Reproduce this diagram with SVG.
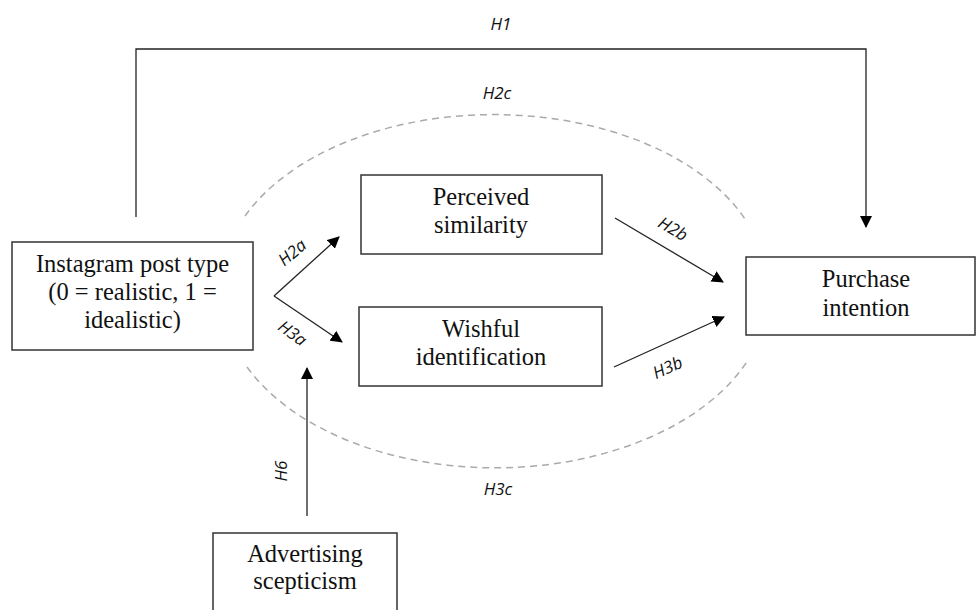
<svg xmlns="http://www.w3.org/2000/svg" width="976" height="610" viewBox="0 0 976 610">
<defs>
<style>
.box{fill:#fff;stroke:#333;stroke-width:1.5}
.nt{font-family:"Liberation Serif","Times New Roman",serif;font-size:24.5px;fill:#111;text-anchor:middle}
.lb{font-family:"Open Sans","Liberation Sans",sans-serif;font-style:italic;font-size:17px;fill:#111;text-anchor:middle}
.ln{fill:none;stroke:#222;stroke-width:1.3}
.dash{fill:none;stroke:#aaa;stroke-width:1.5;stroke-dasharray:7 5}
</style>
<marker id="ah" viewBox="0 0 12 12" refX="11" refY="6" markerWidth="12" markerHeight="12" markerUnits="userSpaceOnUse" orient="auto">
<path d="M0,0 L12,6 L0,12 Z" fill="#000"/>
</marker>
</defs>
<rect width="976" height="610" fill="#fff"/>
<g id="connectors">
<path class="dash" d="M245,216 A273,172 0 0 1 745,219"/>
<path class="dash" d="M247,367 A273,173 0 0 0 748,360"/>
<path class="ln" d="M136,217 L136,49 L866,49 L866,227" marker-end="url(#ah)"/>
<path class="ln" d="M274,296 L339,237" marker-end="url(#ah)"/>
<path class="ln" d="M274,296 L342,342" marker-end="url(#ah)"/>
<path class="ln" d="M615,218 L723,282" marker-end="url(#ah)"/>
<path class="ln" d="M614,367 L724,317" marker-end="url(#ah)"/>
<path class="ln" d="M307,516 L307,368" marker-end="url(#ah)"/>
<text class="lb" x="501" y="30">H1</text>
<text class="lb" x="497" y="99">H2c</text>
<text class="lb" x="498" y="495">H3c</text>
<text class="lb" transform="translate(296,257) rotate(-40)">H2a</text>
<text class="lb" transform="translate(289,338) rotate(36)">H3a</text>
<text class="lb" transform="translate(670,234) rotate(30)">H2b</text>
<text class="lb" transform="translate(670,373) rotate(-24)">H3b</text>
<text class="lb" transform="translate(287,471) rotate(-90)">H6</text>
</g>
<g id="instagram">
<rect class="box" x="12" y="242" width="241" height="108"/>
<text class="nt" x="132.5" y="272">Instagram post type</text>
<text class="nt" x="132.5" y="300">(0 = realistic, 1 =</text>
<text class="nt" x="132.5" y="328">idealistic)</text>
</g>
<g id="similarity">
<rect class="box" x="361" y="175" width="241" height="79"/>
<text class="nt" x="481" y="205">Perceived</text>
<text class="nt" x="481" y="233">similarity</text>
</g>
<g id="identification">
<rect class="box" x="359" y="307" width="243" height="79"/>
<text class="nt" x="481" y="337">Wishful</text>
<text class="nt" x="481" y="365">identification</text>
</g>
<g id="purchase">
<rect class="box" x="746" y="257" width="229" height="78"/>
<text class="nt" x="866" y="287">Purchase</text>
<text class="nt" x="866" y="316">intention</text>
</g>
<g id="scepticism">
<rect class="box" x="213" y="533" width="184" height="90"/>
<text class="nt" x="305" y="562">Advertising</text>
<text class="nt" x="305" y="589">scepticism</text>
</g>
</svg>
